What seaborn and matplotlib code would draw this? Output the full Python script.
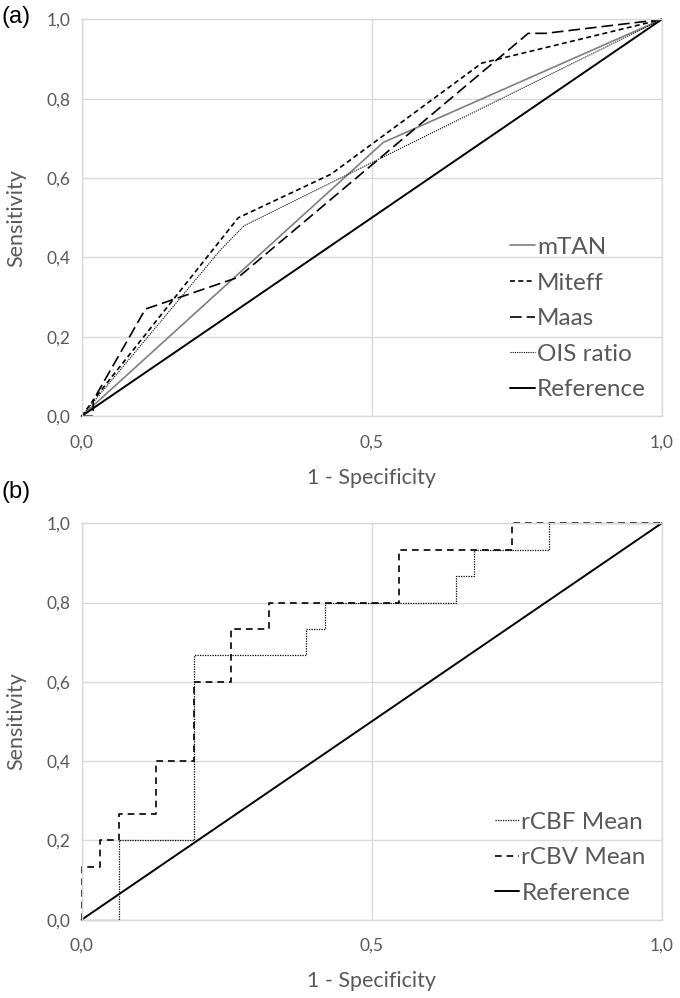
import matplotlib

matplotlib.use("Agg")
import matplotlib.pyplot as plt
import seaborn as sns

# panel (a): ROC curves of the perfusion indices
mtan_fpr = [0.0, 0.52, 1.0]
mtan_tpr = [0.0, 0.69, 1.0]
miteff_fpr = [0.0, 0.02, 0.27, 0.43, 0.69, 1.0]
miteff_tpr = [0.0, 0.04, 0.50, 0.61, 0.89, 1.0]
maas_fpr = [0.0, 0.02, 0.02, 0.11, 0.27, 0.77, 0.80, 1.0]
maas_tpr = [0.0, 0.0, 0.04, 0.27, 0.35, 0.965, 0.965, 1.0]
ois_fpr = [0.0, 0.24, 0.28, 1.0]
ois_tpr = [0.0, 0.42, 0.48, 1.0]

# panel (b): step ROC curves
rcbf_fpr = [0.0, 0.065, 0.065, 0.194, 0.194, 0.387, 0.387, 0.419, 0.419,
            0.645, 0.645, 0.677, 0.677, 0.806, 0.806, 1.0]
rcbf_tpr = [0.0, 0.0, 0.2, 0.2, 0.667, 0.667, 0.733, 0.733, 0.8,
            0.8, 0.867, 0.867, 0.933, 0.933, 1.0, 1.0]
rcbv_fpr = [0.0, 0.0, 0.032, 0.032, 0.065, 0.065, 0.129, 0.129, 0.194, 0.194,
            0.258, 0.258, 0.323, 0.323, 0.548, 0.548, 0.742, 0.742, 1.0]
rcbv_tpr = [0.0, 0.133, 0.133, 0.2, 0.2, 0.267, 0.267, 0.4, 0.4, 0.6,
            0.6, 0.733, 0.733, 0.8, 0.8, 0.933, 0.933, 1.0, 1.0]

ref_fpr = [0.0, 1.0]
ref_tpr = [0.0, 1.0]

x_ticks = [0.0, 0.5, 1.0]
x_ticklabels = ["0,0", "0,5", "1,0"]
y_ticks = [0.0, 0.2, 0.4, 0.6, 0.8, 1.0]
y_ticklabels = ["0,0", "0,2", "0,4", "0,6", "0,8", "1,0"]

GRID = "#d9d9d9"
TEXT = "#595959"

sns.set_theme(style="white")
plt.rcParams["font.family"] = ["Lato", "DejaVu Sans"]


def line(ax, x, y, label, color="black", lw=1.0, ls="-"):
    sns.lineplot(x=x, y=y, ax=ax, sort=False, estimator=None, color=color,
                 linewidth=lw, linestyle=ls, label=label, clip_on=False)


def style_axis(ax):
    ax.set_xlim(0, 1)
    ax.set_ylim(0, 1)
    ax.set_xticks(x_ticks, x_ticklabels)
    ax.set_yticks(y_ticks, y_ticklabels)
    ax.tick_params(axis="both", length=0, labelsize=12.5, colors=TEXT)
    ax.tick_params(axis="x", pad=13)
    ax.tick_params(axis="y", pad=8)
    ax.grid(True, color=GRID, linewidth=1.0)
    ax.set_axisbelow(True)
    for sp in ax.spines.values():
        sp.set_color(GRID)
        sp.set_linewidth(1.0)
    ax.set_xlabel("1 - Specificity", fontsize=15.5, color=TEXT)
    ax.set_ylabel("Sensitivity", fontsize=15.5, color=TEXT)
    ax.xaxis.set_label_coords(0.5, -0.13)
    ax.yaxis.set_label_coords(-0.095, 0.5)


fig = plt.figure(figsize=(6.8, 9.98), dpi=100)
ax_a = fig.add_axes([0.120, 0.583, 0.853, 0.3975])
ax_b = fig.add_axes([0.120, 0.0784, 0.853, 0.3973])

line(ax_a, mtan_fpr, mtan_tpr, "mTAN", color="#7f7f7f", lw=1.2)
line(ax_a, miteff_fpr, miteff_tpr, "Miteff", lw=1.2, ls=(0, (3, 2)))
line(ax_a, maas_fpr, maas_tpr, "Maas", lw=1.2, ls=(0, (7, 3)))
line(ax_a, ois_fpr, ois_tpr, "OIS ratio", lw=0.8, ls=(0, (1, 1)))
line(ax_a, ref_fpr, ref_tpr, "Reference", lw=1.4)

line(ax_b, rcbf_fpr, rcbf_tpr, "rCBF Mean", lw=0.9, ls=(0, (1, 1)))
line(ax_b, rcbv_fpr, rcbv_tpr, "rCBV Mean", lw=1.2, ls=(0, (4, 3)))
line(ax_b, ref_fpr, ref_tpr, "Reference", lw=1.4)

for ax in (ax_a, ax_b):
    style_axis(ax)
    leg = ax.legend(loc="lower right", bbox_to_anchor=(1.0, 0.0), frameon=False,
                    fontsize=17.5, handlelength=1.0, handletextpad=0.1,
                    labelspacing=0.6, borderaxespad=0.25)
    for t in leg.get_texts():
        t.set_color(TEXT)

fig.text(0.002, 1 - 17 / 998, "(a)", fontsize=17, family="Liberation Sans",
         va="center", ha="left", color="black")
fig.text(0.002, 1 - 492 / 998, "(b)", fontsize=17, family="Liberation Sans",
         va="center", ha="left", color="black")

fig.savefig("out.png", dpi=100)
